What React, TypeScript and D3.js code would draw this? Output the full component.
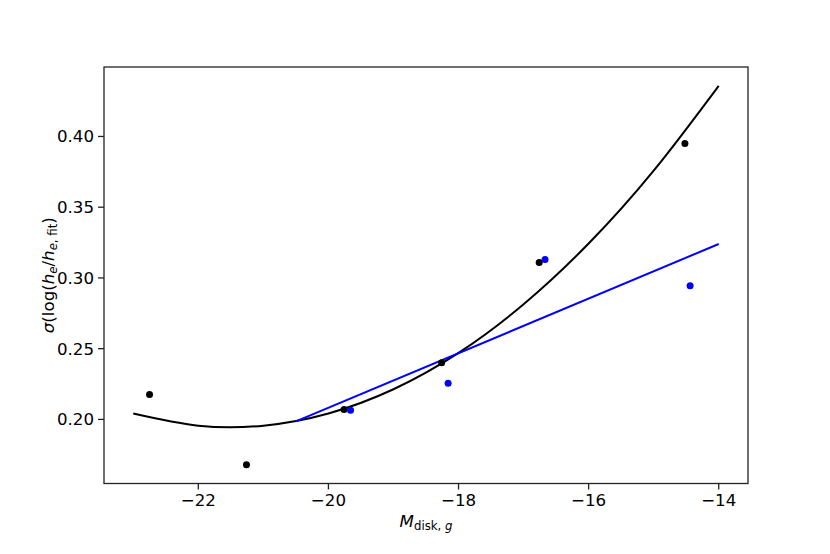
import React from "react";
import * as d3 from "d3";

const blackX = [-22.75, -21.26, -19.76, -18.26, -16.76, -14.52];
const blackY = [0.2176, 0.168, 0.207, 0.240, 0.311, 0.395];
const blueX = [-19.66, -18.16, -16.67, -14.44];
const blueY = [0.2065, 0.2255, 0.313, 0.2945];
const fitX = [-23, -22, -21, -20, -19, -18, -17, -16, -15, -14];
const fitY = [0.2042, 0.1956, 0.1956, 0.2042, 0.2213, 0.247, 0.2814, 0.3243, 0.3758, 0.4358];
const lineX = [-20.5, -14];
const lineY = [0.1986, 0.324];
const xTicks = [-22, -20, -18, -16, -14];
const yTicks = [0.2, 0.25, 0.3, 0.35, 0.4];

const W = 830, H = 554;
const L = 104, R = 748, T = 67, B = 483.5;

export default function App() {
  const x = d3.scaleLinear().domain([-23.45, -13.55]).range([L, R]);
  const y = d3.scaleLinear().domain([0.1547, 0.4491]).range([B, T]);
  const fitLine = d3.line<number>().x((d, i) => x(fitX[i])).y((d) => y(d)).curve(d3.curveNatural);
  const blueLine = d3.line<number>().x((d, i) => x(lineX[i])).y((d) => y(d));
  const font = "DejaVu Sans, sans-serif";
  const fs = 16.67;
  const sub = 11.7;
  return (
    <svg width={W} height={H} style={{ position: "absolute", left: 0, top: 0 }} fontFamily={font}>
      <rect width={W} height={H} fill="white" />
      <path d={fitLine(fitY) || ""} fill="none" stroke="black" strokeWidth={2} />
      <path d={blueLine(lineY) || ""} fill="none" stroke="blue" strokeWidth={2} />
      {blackX.map((v, i) => (
        <circle key={"k" + i} cx={x(v)} cy={y(blackY[i])} r={3.5} fill="black" />
      ))}
      {blueX.map((v, i) => (
        <circle key={"b" + i} cx={x(v)} cy={y(blueY[i])} r={3.5} fill="blue" />
      ))}
      <rect x={L} y={T} width={R - L} height={B - T} fill="none" stroke="#222" strokeWidth={1.3} />
      {xTicks.map((t) => (
        <g key={"xt" + t}>
          <line x1={x(t)} x2={x(t)} y1={B} y2={B + 6} stroke="#222" strokeWidth={1.3} />
          <text x={x(t)} y={B + 22} fontSize={fs} textAnchor="middle" fill="black">
            {"\u2212" + Math.abs(t)}
          </text>
        </g>
      ))}
      {yTicks.map((t) => (
        <g key={"yt" + t}>
          <line x1={L - 6} x2={L} y1={y(t)} y2={y(t)} stroke="#222" strokeWidth={1.3} />
          <text x={L - 10} y={y(t) + 6} fontSize={fs} textAnchor="end" fill="black">
            {t.toFixed(2)}
          </text>
        </g>
      ))}
      <text x={(L + R) / 2} y={527} fontSize={fs} textAnchor="middle" fill="black">
        <tspan fontStyle="italic">M</tspan>
        <tspan fontSize={sub} dy={3}>disk,</tspan>
        <tspan fontSize={sub} fontStyle="italic"> g</tspan>
      </text>
      <text transform={`translate(54, ${(T + B) / 2}) rotate(-90)`} fontSize={fs} textAnchor="middle" fill="black">
        <tspan fontStyle="italic">σ</tspan>
        <tspan>(log(</tspan>
        <tspan fontStyle="italic">h</tspan>
        <tspan fontSize={sub} fontStyle="italic" dy={3}>e</tspan>
        <tspan dy={-3}>/</tspan>
        <tspan fontStyle="italic">h</tspan>
        <tspan fontSize={sub} fontStyle="italic" dy={3}>e</tspan>
        <tspan fontSize={sub}>, fit</tspan>
        <tspan dy={-3}>)</tspan>
      </text>
    </svg>
  );
}
